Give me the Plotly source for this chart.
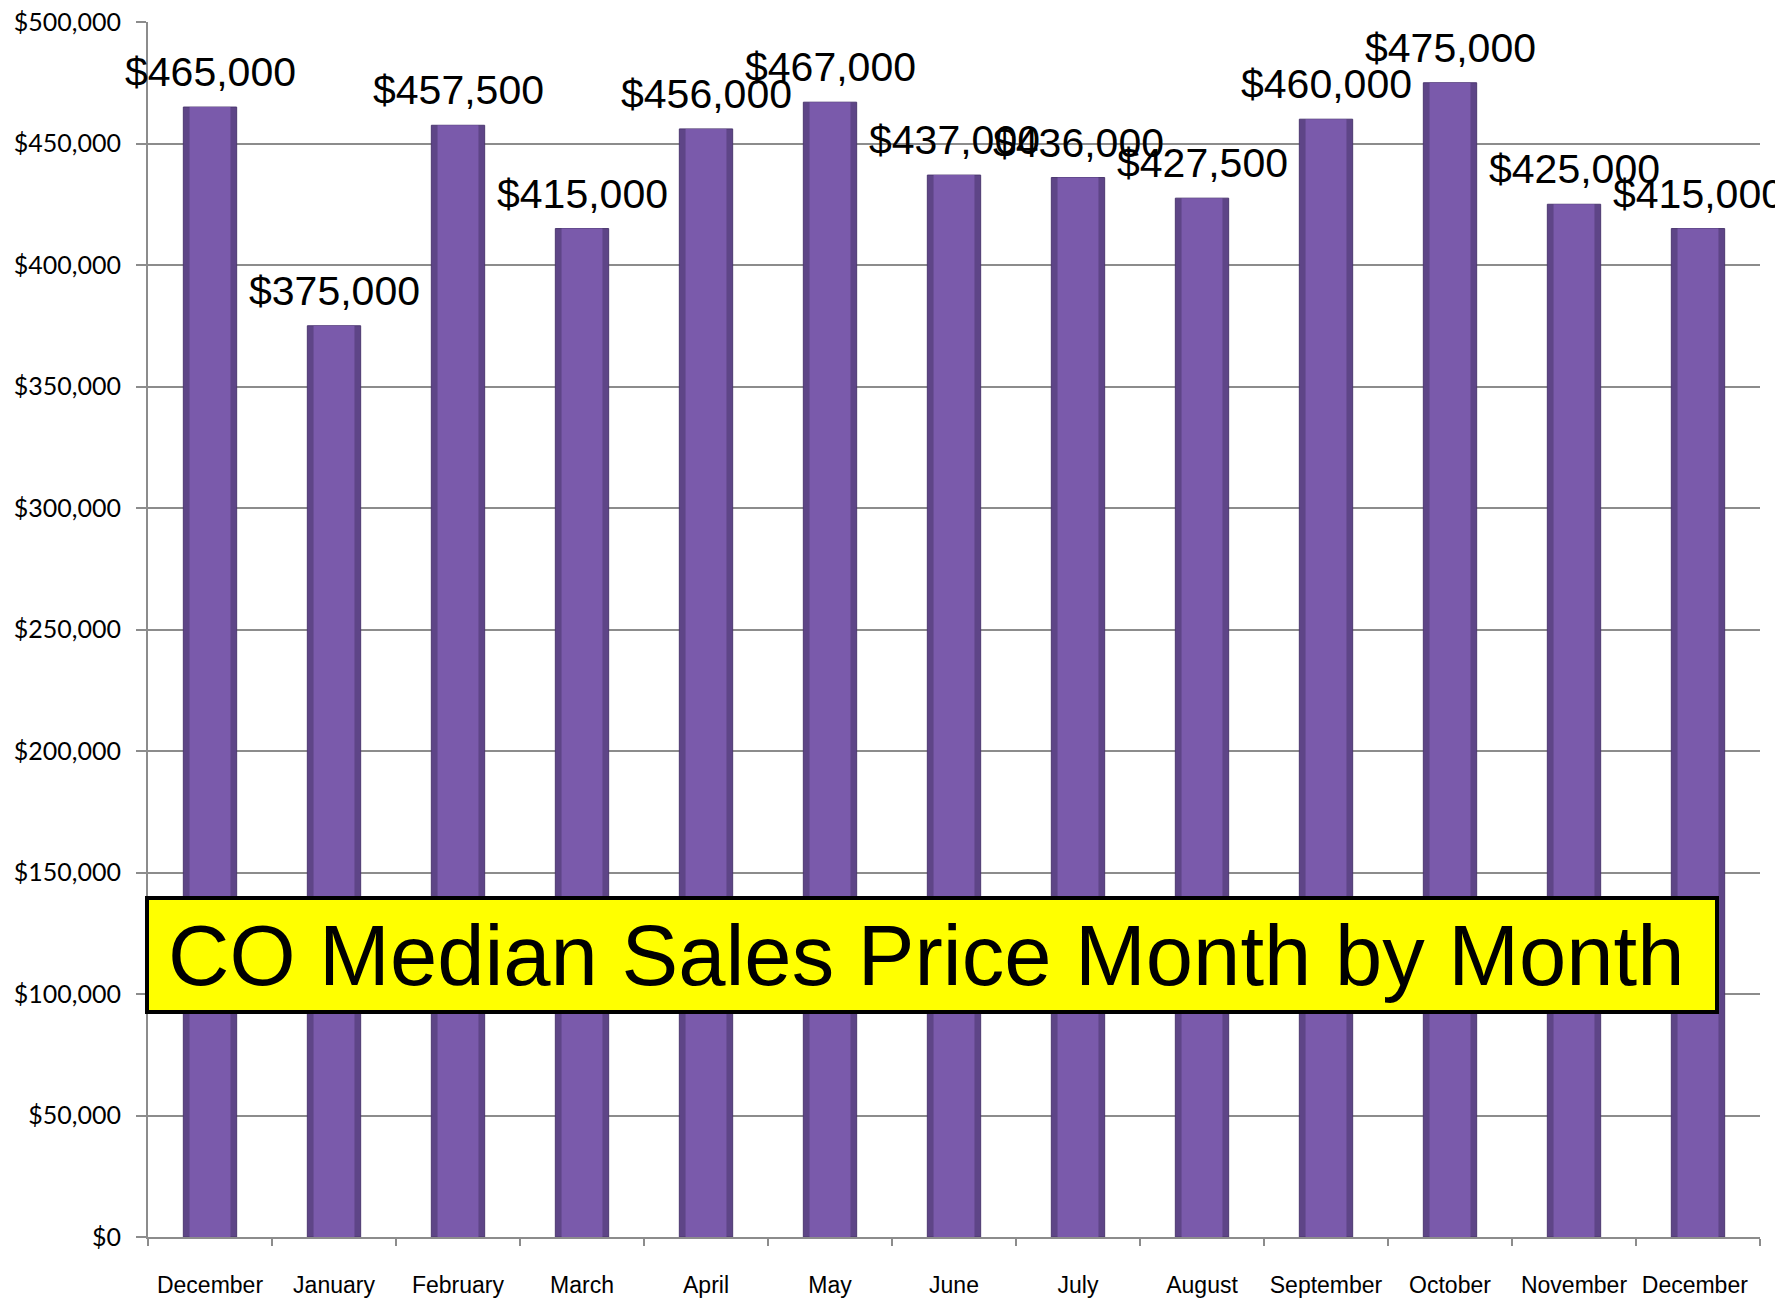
import plotly.graph_objects as go

months = ["December", "January", "February", "March", "April", "May", "June",
          "July", "August", "September", "October", "November", "December "]
prices = [465000, 375000, 457500, 415000, 456000, 467000, 437000,
          436000, 427500, 460000, 475000, 425000, 415000]
labels = ["$465,000", "$375,000", "$457,500", "$415,000", "$456,000", "$467,000", "$437,000",
          "$436,000", "$427,500", "$460,000", "$475,000", "$425,000", "$415,000"]
y_ticks = [0, 50000, 100000, 150000, 200000, 250000, 300000, 350000, 400000, 450000, 500000]
y_tick_text = ["$0", "$50,000", "$100,000", "$150,000", "$200,000", "$250,000",
               "$300,000", "$350,000", "$400,000", "$450,000", "$500,000"]
title_text = "CO Median Sales Price Month by Month"

OFF = 8  # page body margin
W, H = 1783 - OFF, 1302 - OFF
# desired plot area in screen pixels
PL, PR, PT, PB = 148, 1760, 22, 1237
ml, mt = PL - OFF, PT - OFF
mr, mb = W - (PR - OFF), H - (PB - OFF)
pw, ph = W - ml - mr, H - mt - mb

def px_x(x):
    return (x - OFF - ml) / pw

def px_y(y):
    return (H - mb - (y - OFF)) / ph

fig = go.Figure()
fig.add_trace(go.Bar(
    x=months, y=prices, width=0.43,
    marker=dict(color="#5e4587", line=dict(color="#4c3870", width=1)),
    hoverinfo="x+y",
))
fig.add_trace(go.Bar(
    x=months, y=prices, width=0.33,
    marker=dict(color="#7a5aab", line=dict(width=0)),
    hoverinfo="skip",
))

for m, p, t in zip(months, prices, labels):
    fig.add_annotation(x=m, y=p, text=t, showarrow=False, xanchor="center", yanchor="bottom",
                       yshift=10,
                       font=dict(family="Liberation Sans, Arial, sans-serif", size=41, color="black"))

fig.update_layout(
    width=W, height=H,
    margin=dict(l=ml, r=mr, t=mt, b=mb, pad=0, autoexpand=False),
    paper_bgcolor="white", plot_bgcolor="white",
    barmode="overlay", showlegend=False,
    xaxis=dict(
        type="category", range=[-0.5, 12.5], tickson="boundaries", ticks="outside", ticklen=7,
        tickcolor="#8c8c8c", tickwidth=2, showline=True, linecolor="#8c8c8c", linewidth=2,
        tickfont=dict(family="Liberation Sans Narrow, Liberation Sans, Arial, sans-serif", size=23, color="black"),
        tickangle=0, ticklabelstandoff=26, showgrid=False, automargin=False,
    ),
    yaxis=dict(
        range=[0, 500000], tickvals=y_ticks, ticktext=y_tick_text,
        ticks="outside", ticklen=10, tickcolor="#8c8c8c", tickwidth=2,
        showline=True, linecolor="#8c8c8c", linewidth=2,
        showgrid=True, gridcolor="#8c8c8c", gridwidth=2, zeroline=False,
        tickfont=dict(family="Lato, Open Sans, sans-serif", size=25, color="black"),
        ticklabelstandoff=10, automargin=False, ticklabeloverflow="allow",
    ),
)

# Title box
fig.add_shape(type="rect", xref="paper", yref="paper",
              x0=px_x(147), x1=px_x(1717), y0=px_y(1012), y1=px_y(898),
              fillcolor="#ffff00", line=dict(color="black", width=4), layer="above")
fig.add_annotation(xref="paper", yref="paper", x=px_x(926), y=px_y(955),
                   xanchor="center", yanchor="middle", showarrow=False,
                   text=title_text,
                   font=dict(family="Liberation Sans, Arial, sans-serif", size=85, color="black"))

fig.write_html("out.html")
